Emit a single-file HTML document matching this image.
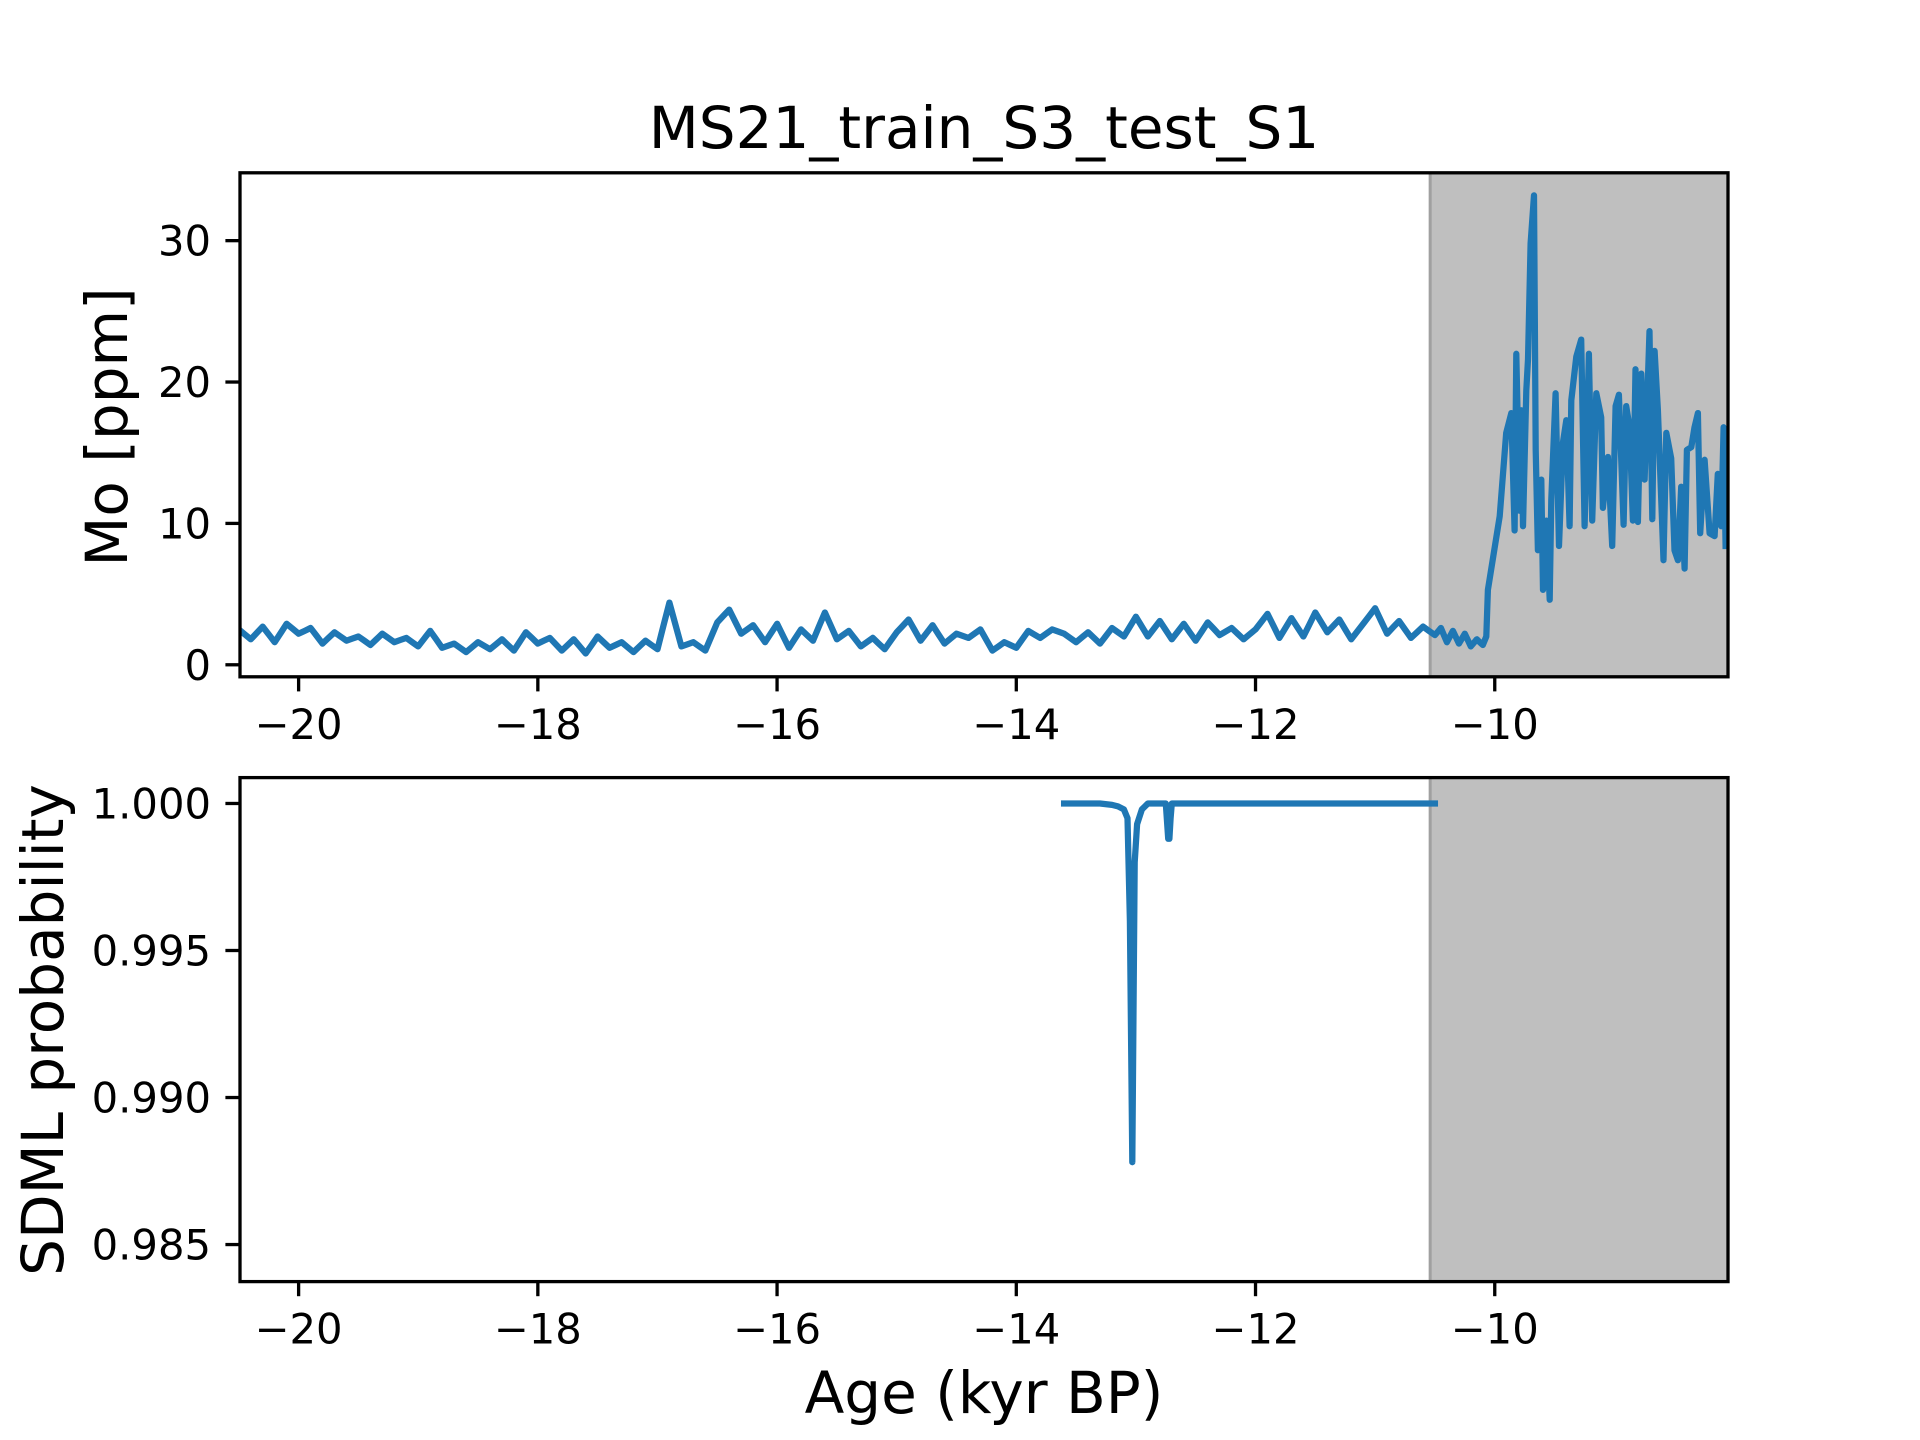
<!DOCTYPE html>
<html><head><meta charset="utf-8"><style>
html,body{margin:0;padding:0;background:#fff;}
svg{display:block;}
text{font-family:"DejaVu Sans","Liberation Sans",sans-serif;fill:#000;}
</style></head><body>
<svg id="fig" width="1920" height="1440" viewBox="0 0 1920 1440" xmlns="http://www.w3.org/2000/svg">
<rect width="1920" height="1440" fill="#fff"/>
<text x="984" y="148" font-size="58" text-anchor="middle">MS21_train_S3_test_S1</text>
<g id="top"></g>
<g id="bot"></g>
<text transform="translate(127,427) rotate(-90)" font-size="58" text-anchor="middle">Mo [ppm]</text>
<text transform="translate(63,1030) rotate(-90)" font-size="58" text-anchor="middle">SDML probability</text>
<text x="984" y="1413" font-size="58" text-anchor="middle">Age (kyr BP)</text>
</svg>
<script>
// ---- data ----
const xTicks = [-20, -18, -16, -14, -12, -10];
const xTickLabels = ["\u221220", "\u221218", "\u221216", "\u221214", "\u221212", "\u221210"];
const moTicks = [0, 10, 20, 30];
const moTickLabels = ["0", "10", "20", "30"];
const probTicks = [1.000, 0.995, 0.990, 0.985];
const probTickLabels = ["1.000", "0.995", "0.990", "0.985"];
const shadeStart = -10.54;
const moLow = [2.5,1.8,2.7,1.6,2.9,2.2,
2.6,1.5,2.3,1.7,2.0,1.4,2.2,1.6,1.9,1.3,
2.4,1.2,1.5,0.9,1.6,1.1,1.8,1.0,2.3,1.5,
1.9,1.0,1.8,0.8,2.0,1.2,1.6,0.9,1.7,1.1,
4.4,1.3,1.6,1.0,3.0,3.9,2.2,2.8,1.6,2.9,
1.2,2.5,1.7,3.7,1.8,2.4,1.3,1.9,1.1,2.3,
3.2,1.7,2.8,1.5,2.2,1.9,2.5,1.0,1.6,1.2,
2.4,1.9,2.5,2.2,1.6,2.3,1.5,2.6,2.0,3.4,
2.0,3.1,1.8,2.9,1.7,3.0,2.1,2.6,1.8,2.5,
3.6,1.9,3.3,2.0,3.7,2.3,3.2,1.8,2.9,4.0,
2.2,3.1,1.9,2.7,2.1];
const moMidAges = [-10.45,-10.4,-10.35,-10.3,-10.25,-10.2,-10.15,-10.1];
const moMid = [2.6,1.6,2.4,1.5,2.2,1.3,1.8,1.4];
const moHighAges = [-10.071,-10.057,-9.959,-9.904,-9.862,-9.834,-9.820,-9.792,-9.778,-9.764,-9.736,-9.722,-9.700,-9.672,-9.658,-9.639,-9.611,-9.597,-9.569,-9.541,-9.527,-9.491,-9.463,-9.430,-9.402,-9.374,-9.360,-9.318,-9.277,-9.249,-9.213,-9.185,-9.151,-9.110,-9.096,-9.054,-9.018,-8.990,-8.962,-8.923,-8.901,-8.873,-8.845,-8.823,-8.803,-8.775,-8.747,-8.706,-8.683,-8.664,-8.636,-8.589,-8.566,-8.525,-8.497,-8.469,-8.441,-8.413,-8.394,-8.357,-8.330,-8.302,-8.282,-8.246,-8.204,-8.162,-8.135,-8.107,-8.087,-8.070];
const moHigh = [2.0,5.3,10.5,16.4,17.8,9.5,22.0,10.9,18.0,9.8,19.4,21.6,29.8,33.2,15.2,8.1,13.1,5.3,10.2,4.6,11.7,19.2,8.4,15.7,17.3,9.8,18.7,21.8,23.0,9.8,22.0,10.2,19.2,17.5,11.1,14.7,8.4,18.3,19.1,9.9,18.3,16.8,10.2,20.9,10.1,20.6,13.1,23.6,10.3,22.2,18.0,7.4,16.4,14.6,8.1,7.4,12.6,6.8,15.2,15.4,16.8,17.8,9.3,14.5,9.3,9.1,13.5,9.8,16.8,8.4];
const probAges = [-13.6,-13.3,-13.2,-13.15,-13.1,-13.07,-13.05,-13.03,-13.01,-12.99,-12.95,-12.9,-12.75,-12.73,-12.72,-12.71,-12.7,-10.5];
const probVals = [1.0,1.0,0.99995,0.9999,0.9998,0.9995,0.996,0.9878,0.998,0.9993,0.9998,1.0,1.0,0.9988,0.9988,0.9995,1.0,1.0];

// ---- layout ----
const NS = "http://www.w3.org/2000/svg";
const L = 240, R = 1728;
const xMin = -20.49, xMax = -8.05;
const xs = v => L + (v - xMin) / (xMax - xMin) * (R - L);
function mk(tag, attrs, parent) {
  const e = document.createElementNS(NS, tag);
  for (const k in attrs) e.setAttribute(k, attrs[k]);
  parent.appendChild(e); return e;
}
function panel(g, top, bot, yMin, yMax, yT, yTL, ages, vals, prefix) {
  const ys = v => bot - (v - yMin) / (yMax - yMin) * (bot - top);
  const sh = mk("rect", {x: xs(shadeStart), y: top, width: R - xs(shadeStart), height: bot - top, fill: "#bfbfbf"}, g);
  
  
  const sl = mk("line", {x1: xs(shadeStart), x2: xs(shadeStart), y1: top, y2: bot, stroke: "#a0a0a0", "stroke-width": 3}, g);
  
  
  let d = "";
  for (let i = 0; i < ages.length; i++) d += (i ? "L" : "M") + xs(ages[i]).toFixed(1) + " " + ys(vals[i]).toFixed(1);
  const cp = mk("clipPath", {id: prefix + "clip"}, g);
  mk("rect", {x: L, y: top, width: R - L, height: bot - top}, cp);
  const p = mk("path", {d: d, fill: "none", stroke: "#1f77b4", "stroke-width": 6.25, "stroke-linejoin": "round", "stroke-linecap": "square", "clip-path": "url(#" + prefix + "clip)"}, g);
  
  
  const fr = mk("rect", {x: L, y: top, width: R - L, height: bot - top, fill: "none", stroke: "#000", "stroke-width": 3.3}, g);
  
  
  xTicks.forEach((t, i) => {
    const x = xs(t);
    const tk = mk("line", {x1: x, x2: x, y1: bot, y2: bot + 14.6, stroke: "#000", "stroke-width": 3.3}, g);
    
    
    const tl = mk("text", {x: x, y: bot + 62, "font-size": 41.7, "text-anchor": "middle"}, g);
    tl.textContent = xTickLabels[i];
    
    
  });
  yT.forEach((t, i) => {
    const y = ys(t);
    const tk = mk("line", {x1: L - 14.6, x2: L, y1: y, y2: y, stroke: "#000", "stroke-width": 3.3}, g);
    
    
    const tl = mk("text", {x: L - 29, y: y + 15, "font-size": 41.7, "text-anchor": "end"}, g);
    tl.textContent = yTL[i];
    
    
  });
}
const moAges = [];
for (let i = 0; i < moLow.length; i++) moAges.push(-20.5 + i * 0.1);
// densify low section with mid-points to mimic the jagged trace
const denseAges = [], denseMo = [];
const baseAges = moAges.concat(moMidAges), baseMo = moLow.concat(moMid);
for (let i = 0; i < baseAges.length; i++) {
  denseAges.push(baseAges[i]); denseMo.push(baseMo[i]);
  if (i < baseAges.length - 1) {
    denseAges.push((baseAges[i] + baseAges[i + 1]) / 2);
    denseMo.push((baseMo[i] + baseMo[i + 1]) / 2);
  }
}
const allAges = denseAges.concat(moHighAges);
const allMo = denseMo.concat(moHigh);
panel(document.getElementById("top"), 172.8, 676.8, -0.85, 34.8, moTicks, moTickLabels, allAges, allMo, "mo");
panel(document.getElementById("bot"), 777.6, 1281.6, 0.98374, 1.00088, probTicks, probTickLabels, probAges, probVals, "sdml");
</script>
</body></html>
